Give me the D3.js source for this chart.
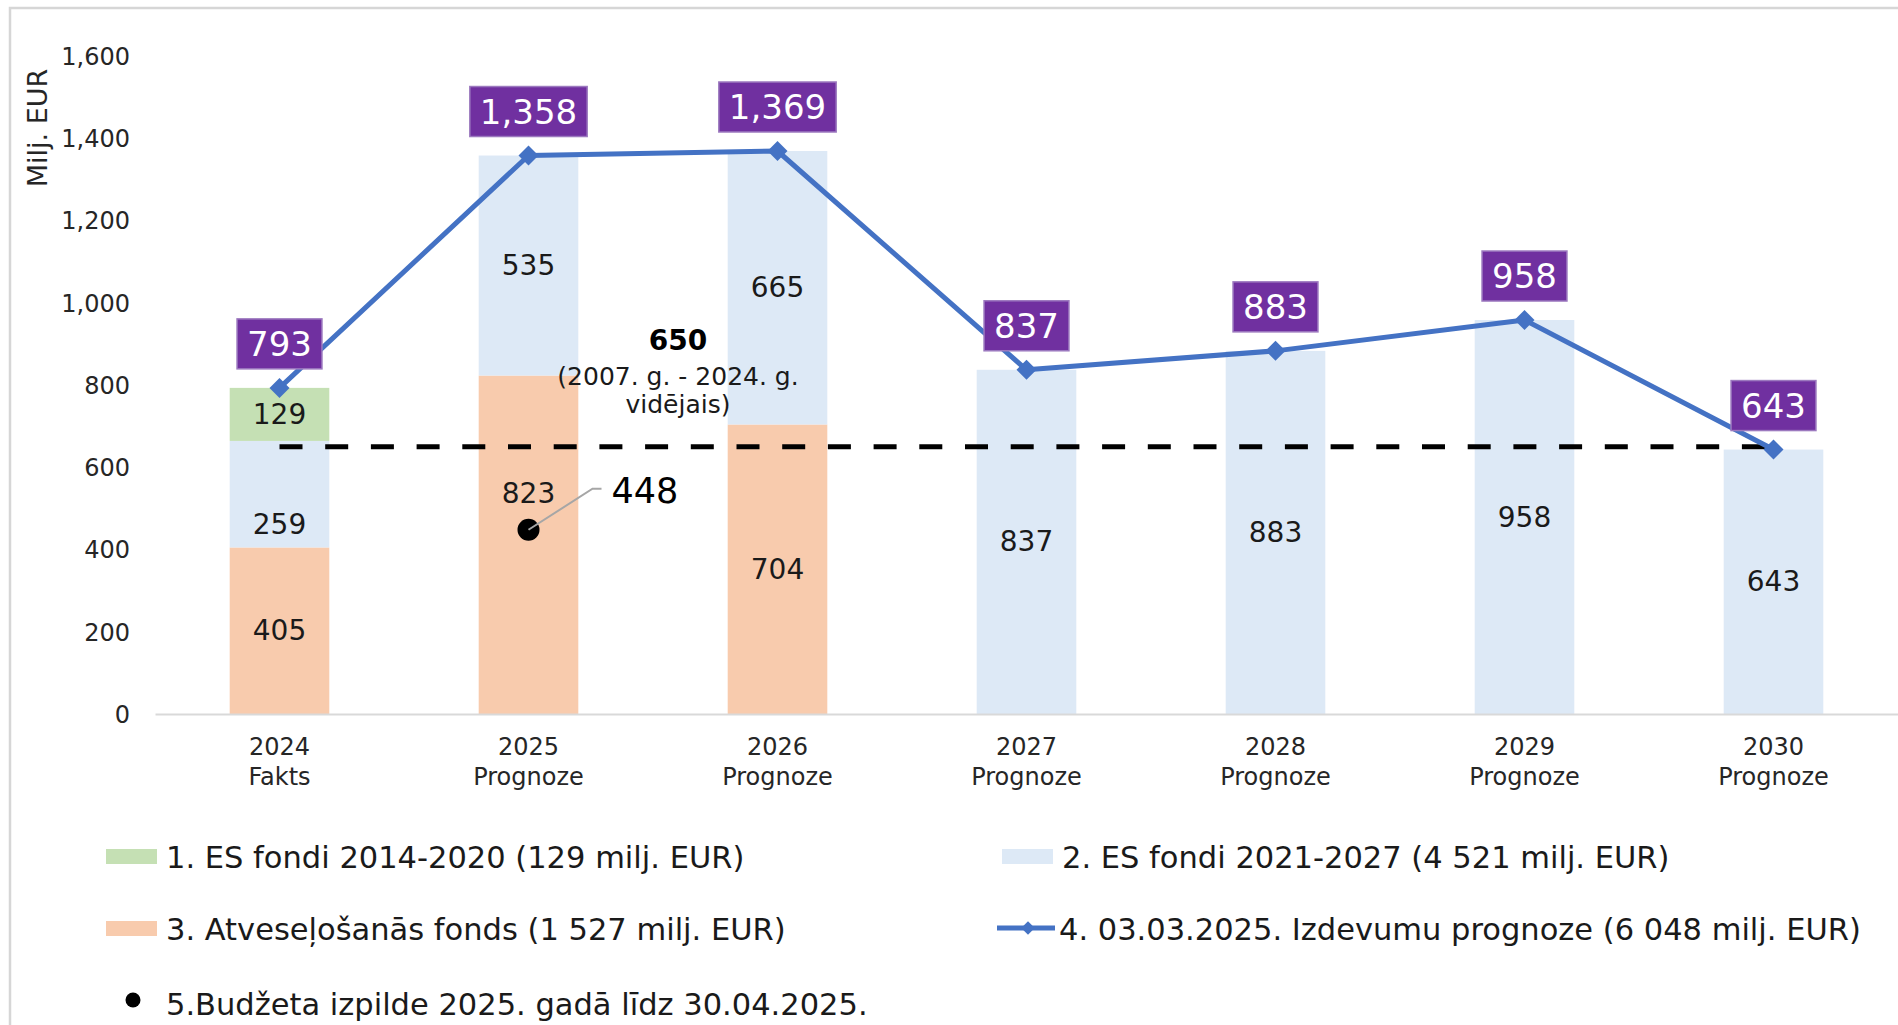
<!DOCTYPE html>
<html>
<head>
<meta charset="utf-8">
<script src="https://cdn.jsdelivr.net/npm/d3@7"></script>
<style>
  body { margin: 0; background: #fff; }
  svg { display: block; font-family: "DejaVu Sans", Verdana, sans-serif; }
</style>
</head>
<body>
<svg id="chart" width="1898" height="1025"></svg>
<script>
// chart data
const years = ["2024", "2025", "2026", "2027", "2028", "2029", "2030"];
const yearNotes = ["Fakts", "Prognoze", "Prognoze", "Prognoze", "Prognoze", "Prognoze", "Prognoze"];
const recoveryFund = [405, 823, 704, 0, 0, 0, 0];      // 3. Atveseļošanās fonds
const esFunds2127 = [259, 535, 665, 837, 883, 958, 643]; // 2. ES fondi 2021-2027
const esFunds1420 = [129, 0, 0, 0, 0, 0, 0];            // 1. ES fondi 2014-2020
const spendingForecast = [793, 1358, 1369, 837, 883, 958, 643];
const budgetYear = "2025";
const budgetExecution = 448;
const averageValue = 650;
const averageNote = ["(2007. g. - 2024. g.", "vidējais)"];
const yTicks = [0, 200, 400, 600, 800, 1000, 1200, 1400, 1600];
const yTitle = "Milj. EUR";
const legendLabels = [
  "1. ES fondi 2014-2020 (129 milj. EUR)",
  "2. ES fondi 2021-2027 (4 521 milj. EUR)",
  "3. Atveseļošanās fonds (1 527 milj. EUR)",
  "4. 03.03.2025. Izdevumu prognoze (6 048 milj. EUR)",
  "5.Budžeta izpilde 2025. gadā līdz 30.04.2025."
];

const colors = { rf: "#f8cbad", es27: "#dde9f6", es20: "#c5e0b4", line: "#4472c4", tag: "#7030a0" };

const svg = d3.select("#chart");

// outer frame of the chart area
svg.append("rect")
  .attr("x", 10).attr("y", 8)
  .attr("width", 1910).attr("height", 1040)
  .attr("fill", "none").attr("stroke", "#d6d6d6").attr("stroke-width", 2.5);

const x = d3.scaleBand().domain(years).range([155, 1898]).paddingInner(0.6).paddingOuter(0.3);
const y = d3.scaleLinear().domain([0, 1600]).range([714, 56]);
const bw = x.bandwidth();
const cx = d => x(d) + bw / 2;

// stacked bars
const rows = years.map((yr, i) => ({ year: yr, rf: recoveryFund[i], es27: esFunds2127[i], es20: esFunds1420[i] }));
const keys = ["rf", "es27", "es20"];
const stacked = d3.stack().keys(keys)(rows);

const layers = svg.append("g").selectAll("g")
  .data(stacked)
  .join("g")
  .attr("fill", d => colors[d.key]);

layers.selectAll("rect")
  .data(d => d.filter(s => s[1] - s[0] > 0))
  .join("rect")
  .attr("x", d => x(d.data.year))
  .attr("width", bw)
  .attr("y", d => y(d[1]))
  .attr("height", d => y(d[0]) - y(d[1]));

// y axis
const yAxis = svg.append("g")
  .attr("transform", "translate(155,0)")
  .call(d3.axisLeft(y).tickValues(yTicks).tickFormat(d3.format(",")).tickSize(0).tickPadding(25));
yAxis.select(".domain").remove();
yAxis.selectAll("text")
  .attr("font-size", 24).attr("fill", "#262626")
  .attr("font-family", "DejaVu Sans, Verdana, sans-serif")
  .attr("dy", "0.35em");

svg.append("text")
  .attr("transform", "translate(37,128) rotate(-90)")
  .attr("text-anchor", "middle")
  .attr("dominant-baseline", "central")
  .attr("font-size", 27).attr("fill", "#262626")
  .text(yTitle);

// x axis
const xAxis = svg.append("g")
  .attr("transform", "translate(0,714)")
  .call(d3.axisBottom(x).tickSize(0).tickSizeOuter(0));
xAxis.select(".domain").attr("stroke", "#d9d9d9").attr("stroke-width", 2);
xAxis.selectAll(".tick text").remove();
xAxis.selectAll(".tick").each(function (d, i) {
  const t = d3.select(this).append("text")
    .attr("text-anchor", "middle")
    .attr("font-size", 24).attr("fill", "#262626")
    .attr("font-family", "DejaVu Sans, Verdana, sans-serif");
  t.append("tspan").attr("x", 0).attr("y", 33).attr("dominant-baseline", "central").text(d);
  t.append("tspan").attr("x", 0).attr("y", 63).attr("dominant-baseline", "central").text(yearNotes[i]);
});

// segment value labels (two were moved by hand in the original)
const labelNudge = { "2024|es27": 30, "2025|rf": -51 };
stacked.forEach(layer => {
  svg.append("g").selectAll("text")
    .data(layer.filter(s => s[1] - s[0] > 0))
    .join("text")
    .attr("x", d => cx(d.data.year))
    .attr("y", d => (y(d[0]) + y(d[1])) / 2 + (labelNudge[d.data.year + "|" + layer.key] || 0))
    .attr("text-anchor", "middle")
    .attr("dominant-baseline", "central")
    .attr("font-size", 28).attr("fill", "#1a1a1a")
    .text(d => d[1] - d[0]);
});

// average dashed line
svg.append("line")
  .attr("x1", cx(years[0])).attr("x2", cx(years[years.length - 1]))
  .attr("y1", y(averageValue)).attr("y2", y(averageValue))
  .attr("stroke", "#000").attr("stroke-width", 5)
  .attr("stroke-dasharray", "23 22.7");

const avgX = (cx("2025") + cx("2026")) / 2 + 25;
svg.append("text")
  .attr("x", avgX).attr("y", y(averageValue) - 106)
  .attr("text-anchor", "middle").attr("dominant-baseline", "central")
  .attr("font-size", 28).attr("font-weight", "bold").attr("fill", "#000")
  .text(averageValue);
averageNote.forEach((s, i) => {
  svg.append("text")
    .attr("x", avgX).attr("y", y(averageValue) - 70 + i * 28)
    .attr("text-anchor", "middle").attr("dominant-baseline", "central")
    .attr("font-size", 25).attr("fill", "#1a1a1a")
    .text(s);
});

// budget execution dot with leader
const bx = cx(budgetYear), by = y(budgetExecution);
svg.append("circle").attr("cx", bx).attr("cy", by).attr("r", 11).attr("fill", "#000");
svg.append("path")
  .attr("d", `M${bx},${by}L${bx + 64},${by - 41}H${bx + 73}`)
  .attr("fill", "none").attr("stroke", "#a6a6a6").attr("stroke-width", 2);
svg.append("text")
  .attr("x", bx + 83).attr("y", by - 39)
  .attr("dominant-baseline", "central")
  .attr("font-size", 35).attr("fill", "#000")
  .text(budgetExecution);

// forecast line
const pts = years.map((yr, i) => [cx(yr), y(spendingForecast[i])]);
svg.append("path")
  .attr("d", d3.line()(pts))
  .attr("fill", "none").attr("stroke", colors.line).attr("stroke-width", 5)
  .attr("stroke-linejoin", "round");
svg.append("g").selectAll("path")
  .data(pts)
  .join("path")
  .attr("transform", d => `translate(${d[0]},${d[1]}) rotate(45)`)
  .attr("d", d3.symbol(d3.symbolSquare, 200))
  .attr("fill", colors.line);

// purple value tags
const fmt = d3.format(",");
const tags = svg.append("g").selectAll("g")
  .data(pts.map((p, i) => ({ p, v: spendingForecast[i] })))
  .join("g")
  .attr("transform", d => `translate(${d.p[0]},${d.p[1] - 19 - 25})`);
tags.append("rect").attr("fill", colors.tag).attr("stroke", "#9c79bf").attr("stroke-width", 1.5);
tags.append("text")
  .attr("text-anchor", "middle").attr("dominant-baseline", "central")
  .attr("font-size", 34).attr("fill", "#fff")
  .text(d => fmt(d.v));
tags.each(function () {
  const g = d3.select(this);
  const w = g.select("text").node().getComputedTextLength() + 20;
  g.select("rect").attr("x", -w / 2).attr("y", -25).attr("width", w).attr("height", 50);
});

// legend
const legendPos = [[106, 857], [1002, 857], [106, 929], [1002, 929], [106, 1004]];
const legendType = ["es20", "es27", "rf", "line", "dot"];
const legend = svg.append("g").selectAll("g")
  .data(legendLabels)
  .join("g")
  .attr("transform", (d, i) => `translate(${legendPos[i][0]},${legendPos[i][1]})`);
legend.each(function (d, i) {
  const g = d3.select(this);
  const t = legendType[i];
  if (t === "line") {
    g.append("line").attr("x1", -5).attr("x2", 53).attr("y1", -1).attr("y2", -1)
      .attr("stroke", colors.line).attr("stroke-width", 5);
    g.append("path").attr("transform", "translate(26,-1) rotate(45)")
      .attr("d", d3.symbol(d3.symbolSquare, 90)).attr("fill", colors.line);
  } else if (t === "dot") {
    g.append("circle").attr("cx", 27).attr("cy", -4).attr("r", 7.5).attr("fill", "#000");
  } else {
    g.append("rect").attr("x", 0).attr("y", -8).attr("width", 51).attr("height", 15).attr("fill", colors[t]);
  }
  g.append("text")
    .attr("x", t === "line" ? 57 : 60).attr("y", 0)
    .attr("dominant-baseline", "central")
    .attr("font-size", 30.5).attr("fill", "#1a1a1a")
    .text(d);
});
</script>
</body>
</html>
